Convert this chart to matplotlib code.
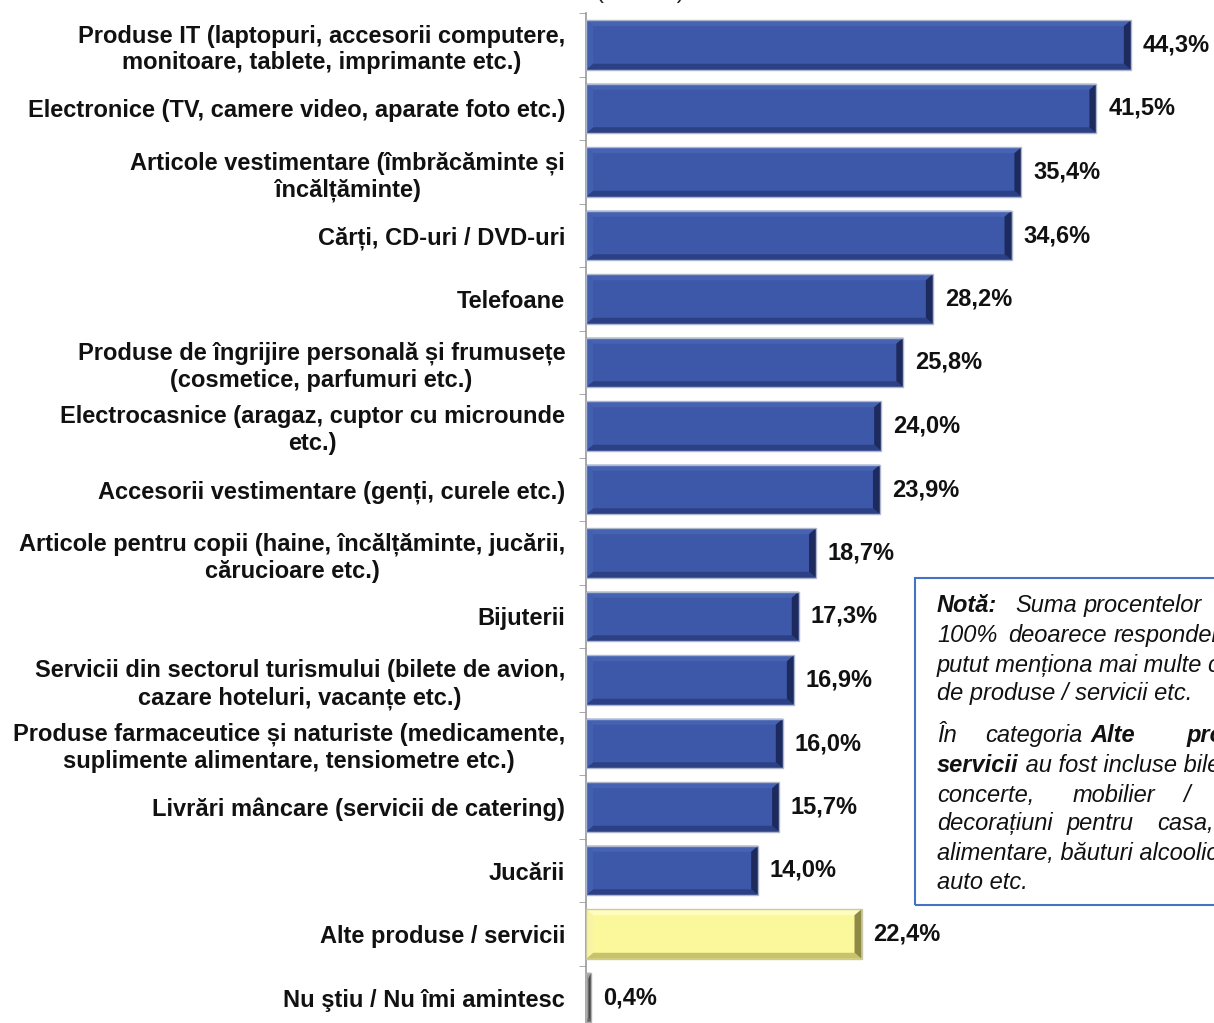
import numpy as np
import matplotlib
matplotlib.use("Agg")
import matplotlib.pyplot as plt
from matplotlib.patches import Polygon, Rectangle

plt.rcParams["font.family"] = ["Liberation Sans", "DejaVu Sans"]

categories = [
    "Produse IT (laptopuri, accesorii computere,\nmonitoare, tablete, imprimante etc.)",
    "Electronice (TV, camere video, aparate foto etc.)",
    "Articole vestimentare (îmbrăcăminte și\nîncălțăminte)",
    "Cărți, CD-uri / DVD-uri",
    "Telefoane",
    "Produse de îngrijire personală și frumusețe\n(cosmetice, parfumuri etc.)",
    "Electrocasnice (aragaz, cuptor cu microunde\netc.)",
    "Accesorii vestimentare (genți, curele etc.)",
    "Articole pentru copii (haine, încălțăminte, jucării,\ncărucioare etc.)",
    "Bijuterii",
    "Servicii din sectorul turismului (bilete de avion,\ncazare hoteluri, vacanțe etc.)",
    "Produse farmaceutice și naturiste (medicamente,\nsuplimente alimentare, tensiometre etc.)",
    "Livrări mâncare (servicii de catering)",
    "Jucării",
    "Alte produse / servicii",
    "Nu ştiu / Nu îmi amintesc",
]
values = [44.3, 41.5, 35.4, 34.6, 28.2, 25.8, 24.0, 23.9, 18.7, 17.3, 16.9, 16.0, 15.7, 14.0, 22.4, 0.4]
kinds = ["blue"] * 14 + ["yellow", "gray"]

# body, top, left, bottom, right, outline
palette = {
    "blue": ("#3D58A8", "#4662B2", "#4360AF", "#2C4085", "#1D2A5E", "#AEB6CC"),
    "yellow": ("#FBF89C", "#FEFDBE", "#F7F4A4", "#C8C26A", "#8E8A45", "#C9C9A8"),
    "gray": ("#8A8A8A", "#A5A5A5", "#999999", "#6A6A6A", "#4A4A4A", "#B0B0B0"),
}

W, H = 1214, 1023
fig = plt.figure(figsize=(W / 100, H / 100), dpi=100)
x0_px, xmax = 586, 51.06
ax = fig.add_axes([x0_px / W, (H - 1029.25) / H, 1 - x0_px / W, (1029.25 - 13.25) / H])

y = np.arange(len(categories))
bars = ax.barh(y, values, height=0.78, color=[palette[k][0] for k in kinds], zorder=2)

# bevel effect on each bar
px_x = (W - x0_px) / xmax
px_y = (1029.25 - 13.25) / len(categories)
for bar, k in zip(bars, kinds):
    body, top_c, left_c, bot_c, right_c, edge_c = palette[k]
    bx0, w = bar.get_x(), bar.get_width()
    t, b = bar.get_y(), bar.get_y() + bar.get_height()
    dx = min(7 / px_x, w / 2)
    dy = 6 / px_y
    x1 = bx0 + w
    strips = [
        ([(bx0, t), (x1, t), (x1 - dx, t + dy), (bx0 + dx, t + dy)], top_c),
        ([(bx0, b), (x1, b), (x1 - dx, b - dy), (bx0 + dx, b - dy)], bot_c),
        ([(bx0, t), (bx0 + dx, t + dy), (bx0 + dx, b - dy), (bx0, b)], left_c),
        ([(x1, t), (x1 - dx, t + dy), (x1 - dx, b - dy), (x1, b)], right_c),
    ]
    for pts, c in strips:
        ax.add_patch(Polygon(pts, closed=True, facecolor=c, edgecolor="none", zorder=3))
    ax.add_patch(Rectangle((bx0, t), w, b - t, fill=False, edgecolor=edge_c, lw=1, zorder=4))

labels = [f"{v:.1f}%".replace(".", ",") for v in values]
ax.bar_label(bars, labels=labels, padding=8.5, fontsize=17, fontweight="bold", color="#111111")

ax.set_xlim(0, xmax)
ax.set_ylim(len(categories) - 0.5, -0.5)
ax.set_yticks(y)
ax.set_yticklabels(categories, fontsize=17, fontweight="bold", color="#111111", linespacing=1.22)
for lbl in ax.get_yticklabels():
    lbl.set_multialignment("center")
ax.set_yticks(np.arange(len(categories) + 1) - 0.5, minor=True)
ax.tick_params(axis="y", which="major", length=0, pad=15)
ax.tick_params(axis="y", which="minor", length=5, color="#9A9A9A", direction="out")
ax.set_xticks([])
for s in ["top", "right", "bottom"]:
    ax.spines[s].set_visible(False)
ax.spines["left"].set_color("#9A9A9A")
ax.spines["left"].set_linewidth(1.2)

# cropped subtitle at the very top
fig.text(640 / W, 1 + 2 / H, "(% total)", ha="center", va="baseline", fontsize=17, color="#222222")

# note box
fig.patches.append(Rectangle((915 / W, (H - 905) / H), 0.3, (905 - 578) / H, transform=fig.transFigure,
                             fill=False, edgecolor="#4472C4", lw=1.5, zorder=5))

renderer = fig.canvas.get_renderer()
note_fs = 17


def put(x, yc, s, weight="normal"):
    t = fig.text(x / W, 1 - (yc + 7) / H, s, fontsize=note_fs, style="italic", fontweight=weight,
                 ha="left", va="baseline", color="#111111")
    return t.get_window_extent(renderer=renderer).x1


def put_run(x, yc, parts):
    for s, weight in parts:
        x = put(x, yc, s, weight)


def put_spread(yc, words):
    # justified line: words near their place, never closer than a space
    end = 0
    for x, s, weight in words:
        end = put(max(x, end + 7), yc, s, weight)


note_lines = [
    (605, [(937, "Notă:", "bold"), (1015, "Suma", "normal"), (1070, "procentelor", "normal")]),
    (635, [(937, "100%", "normal"), (1008, "deoarece", "normal"), (1112, "respondenții", "normal")]),
    (665, None, [("putut menționa mai multe categorii", "normal")]),
    (693, None, [("de produse / servicii etc.", "normal")]),
    (735, [(937, "În", "normal"), (985, "categoria", "normal"), (1090, "Alte", "bold"), (1187, "produse", "bold")]),
    (765, None, [("servicii", "bold"), (" au fost incluse bilete", "normal")]),
    (795, [(937, "concerte,", "normal"), (1073, "mobilier", "normal"), (1183, "/", "normal")]),
    (823, [(937, "decorațiuni", "normal"), (1067, "pentru", "normal"), (1157, "casa,", "normal")]),
    (853, None, [("alimentare, băuturi alcoolice, piese", "normal")]),
    (882, None, [("auto etc.", "normal")]),
]
for entry in note_lines:
    if len(entry) == 2:
        put_spread(*entry)
    else:
        yc, _, parts = entry
        put_run(937, yc, parts)

fig.savefig("out.png", dpi=100)
